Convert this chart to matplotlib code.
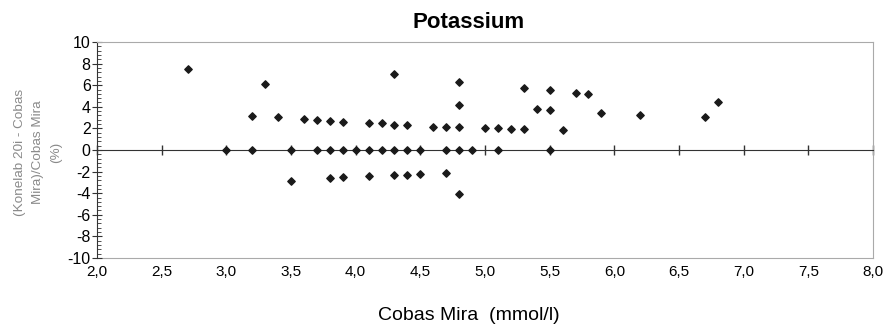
import matplotlib.pyplot as plt
from matplotlib.ticker import MultipleLocator, FuncFormatter

plt.rcParams['font.family'] = ['Liberation Sans', 'DejaVu Sans']
plt.rcParams['axes.unicode_minus'] = False

# Cobas Mira (mmol/l) vs relative difference (%)
cobas_mira = [2.7, 3.0, 3.2, 3.2, 3.3, 3.4, 3.5, 3.5, 3.6, 3.7, 3.7,
              3.8, 3.8, 3.8, 3.9, 3.9, 3.9, 4.0, 4.1, 4.1, 4.1, 4.2, 4.2,
              4.3, 4.3, 4.3, 4.3, 4.4, 4.4, 4.4, 4.5, 4.5, 4.6, 4.7, 4.7,
              4.7, 4.8, 4.8, 4.8, 4.8, 4.8, 4.9, 5.0, 5.1, 5.1, 5.2, 5.3,
              5.3, 5.4, 5.5, 5.5, 5.5, 5.6, 5.7, 5.8, 5.9, 6.2, 6.7, 6.8]
diff_pct = [7.47, 0.0, 3.18, 0.0, 6.14, 3.02, 0.0, -2.84, 2.84, 2.78, 0.0,
            2.68, 0.0, -2.59, 2.62, 0.0, -2.52, 0.0, 2.53, 0.0, -2.44, 2.47, 0.0,
            7.04, 2.35, 0.0, -2.28, 2.35, 0.0, -2.28, 0.0, -2.19, 2.16, 2.16, 0.0,
            -2.10, 6.27, 4.20, 2.10, 0.0, -4.10, 0.0, 2.00, 2.00, 0.0, 1.94, 5.71,
            1.91, 3.77, 5.52, 3.67, 0.0, 1.82, 5.31, 5.22, 3.46, 3.27, 3.02, 4.44]

fig = plt.figure(figsize=(8.89, 3.29), dpi=100)
ax = fig.add_axes([0.1091, 0.2158, 0.8729, 0.6565])

ax.scatter(cobas_mira, diff_pct, marker='D', s=14, color='#1a1a1a', zorder=3)

ax.set_xlim(2.0, 8.0)
ax.set_ylim(-10, 10)

# x axis drawn through zero, labels on a secondary axis at the bottom
ax.spines['bottom'].set_position(('data', 0))
ax.spines['bottom'].set_color('#333333')
ax.spines['left'].set_color('#333333')
for s in ['top', 'right']:
    ax.spines[s].set_color('#aaaaaa')
ax.xaxis.set_major_locator(MultipleLocator(0.5))
ax.tick_params(axis='x', direction='inout', length=7, width=1,
               color='#333333', labelbottom=False)

ax.yaxis.set_major_locator(MultipleLocator(2))
ax.yaxis.set_minor_locator(MultipleLocator(0.4))
ax.tick_params(axis='y', which='major', direction='inout', length=7,
               color='#333333', labelsize=11.5, pad=1)
ax.tick_params(axis='y', which='minor', direction='in', length=3,
               color='#333333')

comma = FuncFormatter(lambda v, pos: f'{v:.1f}'.replace('.', ','))
sec = ax.secondary_xaxis('bottom')
sec.spines['bottom'].set_color('#aaaaaa')
sec.xaxis.set_major_locator(MultipleLocator(0.5))
sec.xaxis.set_major_formatter(comma)
sec.tick_params(axis='x', length=0, labelsize=11, pad=5)
sec.set_xlabel('Cobas Mira  (mmol/l)', fontsize=14, labelpad=20)
sec.xaxis.label.set_x(0.479)

ax.set_title('Potassium', fontsize=16, fontweight='bold', pad=10, x=0.479)

fig.text(0.0427, 0.538, '(Konelab 20i - Cobas\nMira)/Cobas Mira\n(%)',
         rotation=90, rotation_mode='anchor', ha='center', va='center',
         multialignment='center', fontsize=9.7, color='#8a8a8a',
         linespacing=1.65)

fig.savefig('out.png', dpi=100)
